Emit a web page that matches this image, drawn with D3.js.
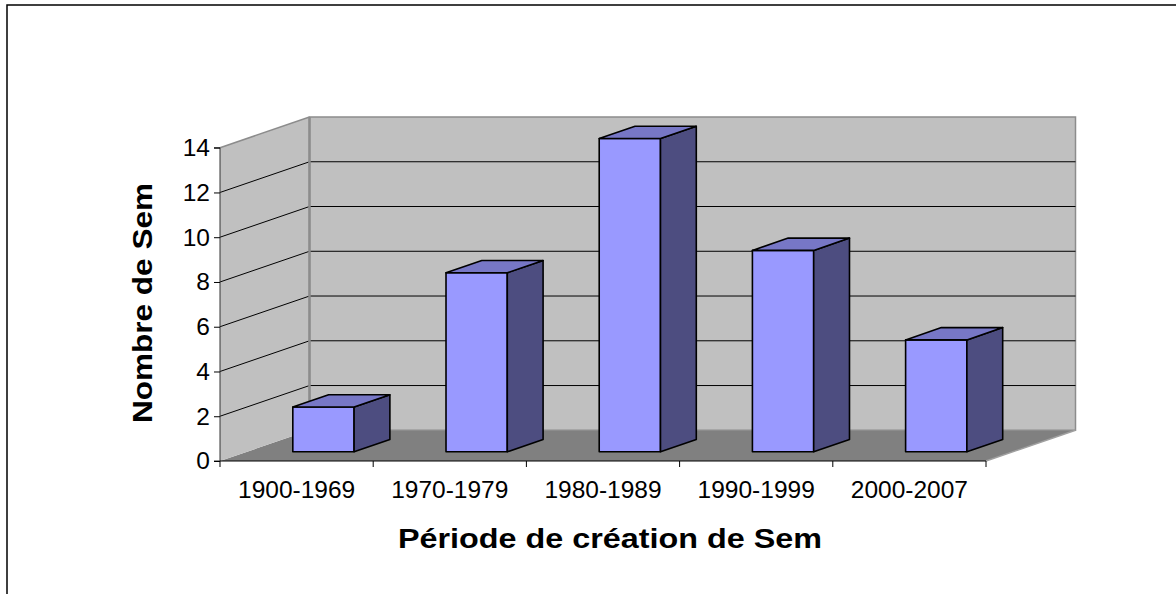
<!DOCTYPE html>
<html lang="fr">
<head>
<meta charset="UTF-8">
<script src="https://d3js.org/d3.v7.min.js"></script>
<style>
  body { margin: 0; background: #fff; }
  svg { display: block; font-family: "Liberation Sans", Arial, sans-serif; }
</style>
</head>
<body>
<script>
const categories = ['1900-1969', '1970-1979', '1980-1989', '1990-1999', '2000-2007'];
const values = [2, 8, 14, 9, 5];
const yTicks = [0, 2, 4, 6, 8, 10, 12, 14];
const xTitle = 'Période de création de Sem';
const yTitle = 'Nombre de Sem';

const width = 1176, height = 594;

const svg = d3.select('body').append('svg')
  .attr('width', width)
  .attr('height', height);

// outer frame (right and bottom edges fall outside the picture)
svg.append('rect')
  .attr('x', 7).attr('y', 5)
  .attr('width', width + 10).attr('height', height + 10)
  .attr('fill', 'none').attr('stroke', '#000').attr('stroke-width', 1.5);

// front plane scales
const x = d3.scaleBand()
  .domain(categories)
  .range([220, 986])
  .paddingInner(0.6)
  .paddingOuter(0.3);

const y = d3.scaleLinear()
  .domain([0, 14])
  .range([461, 147.7]);

// depth shift of the 3D box
const depthX = 89.5, depthY = -30.7;
const P = (px, py, d) => [px + depthX * d, py + depthY * d];
const poly = pts => 'M' + pts.map(p => p.join(',')).join('L') + 'Z';

const x0 = x.range()[0], x1 = x.range()[1];
const yTop = y(14), yBot = y(0);

// floor
svg.append('path')
  .attr('d', poly([P(x0, yBot, 0), P(x0, yBot, 1), P(x1, yBot, 1), P(x1, yBot, 0)]))
  .attr('fill', '#808080');

// left wall
svg.append('path')
  .attr('d', poly([P(x0, yBot, 0), P(x0, yTop, 0), P(x0, yTop, 1), P(x0, yBot, 1)]))
  .attr('fill', '#c0c0c0');

// back wall
svg.append('path')
  .attr('d', poly([P(x0, yTop, 1), P(x1, yTop, 1), P(x1, yBot, 1), P(x0, yBot, 1)]))
  .attr('fill', '#c0c0c0')
  .attr('stroke', '#8c8c8c').attr('stroke-width', 1.5);

// gridlines
const grid = yTicks.filter(v => v > 0 && v < 14);
svg.append('g').selectAll('path')
  .data(grid)
  .join('path')
  .attr('d', v => 'M' + P(x0, y(v), 0).join(',') + 'L' + P(x0, y(v), 1).join(',') + 'L' + P(x1, y(v), 1).join(','))
  .attr('fill', 'none')
  .attr('stroke', '#000')
  .attr('stroke-width', 1);

// wall top edge + back corner
svg.append('path')
  .attr('d', 'M' + P(x0, yTop, 0).join(',') + 'L' + P(x0, yTop, 1).join(','))
  .attr('stroke', '#8c8c8c').attr('stroke-width', 1.5);
svg.append('path')
  .attr('d', 'M' + P(x0, yTop, 1).join(',') + 'L' + P(x0, yBot, 1).join(','))
  .attr('stroke', '#8c8c8c').attr('stroke-width', 2.5);
// floor right edge
svg.append('path')
  .attr('d', 'M' + P(x1, yBot, 0).join(',') + 'L' + P(x1, yBot, 1).join(','))
  .attr('stroke', '#a0a0a0').attr('stroke-width', 1.5);

// bars
const dF = 0.3, dB = 0.7;
const bars = svg.append('g').selectAll('g')
  .data(categories.map((c, i) => ({ c, v: values[i] })))
  .join('g');

bars.append('path') // front
  .attr('d', d => {
    const l = x(d.c), r = x(d.c) + x.bandwidth();
    return poly([P(l, y(0), dF), P(r, y(0), dF), P(r, y(d.v), dF), P(l, y(d.v), dF)]);
  })
  .attr('fill', '#9999ff');
bars.append('path') // side
  .attr('d', d => {
    const r = x(d.c) + x.bandwidth();
    return poly([P(r, y(0), dF), P(r, y(0), dB), P(r, y(d.v), dB), P(r, y(d.v), dF)]);
  })
  .attr('fill', '#4d4d80');
bars.append('path') // top
  .attr('d', d => {
    const l = x(d.c), r = x(d.c) + x.bandwidth();
    return poly([P(l, y(d.v), dF), P(r, y(d.v), dF), P(r, y(d.v), dB), P(l, y(d.v), dB)]);
  })
  .attr('fill', '#7777c6');
bars.selectAll('path')
  .attr('stroke', '#000')
  .attr('stroke-width', 1.6)
  .attr('stroke-linejoin', 'round');

// y axis (front left edge)
const yAxis = d3.axisLeft(y).tickValues(yTicks).tickSize(6).tickPadding(4);
const gy = svg.append('g').attr('transform', `translate(${x0},0)`).call(yAxis);
gy.select('.domain').attr('stroke', '#333').attr('d', `M-6,${yTop}H0V${yBot}H-6`);
gy.selectAll('text').attr('font-size', 24.5).attr('fill', '#000').attr('font-family', '"Liberation Sans", Arial, sans-serif');

// x axis (front floor edge)
const xTickPos = d3.range(categories.length + 1).map(i => x0 + i * x.step());
svg.append('path')
  .attr('d', `M${x0},${yBot}H${x1}`)
  .attr('stroke', '#000').attr('stroke-width', 1);
svg.append('g').selectAll('line')
  .data(xTickPos)
  .join('line')
  .attr('x1', d => d).attr('x2', d => d)
  .attr('y1', yBot).attr('y2', yBot + 6)
  .attr('stroke', '#000');
svg.append('g').selectAll('text')
  .data(categories)
  .join('text')
  .attr('x', d => x(d) + x.bandwidth() / 2)
  .attr('y', 498)
  .attr('text-anchor', 'middle')
  .attr('font-size', 24.5)
  .text(d => d);

// titles
svg.append('text')
  .attr('x', 610).attr('y', 548)
  .attr('text-anchor', 'middle')
  .attr('font-size', 27).attr('font-weight', 'bold')
  .attr('textLength', 424).attr('lengthAdjust', 'spacingAndGlyphs')
  .text(xTitle);

svg.append('text')
  .attr('transform', 'translate(152,303) rotate(-90)')
  .attr('text-anchor', 'middle')
  .attr('font-size', 27).attr('font-weight', 'bold')
  .attr('textLength', 240).attr('lengthAdjust', 'spacingAndGlyphs')
  .text(yTitle);
</script>
</body>
</html>
